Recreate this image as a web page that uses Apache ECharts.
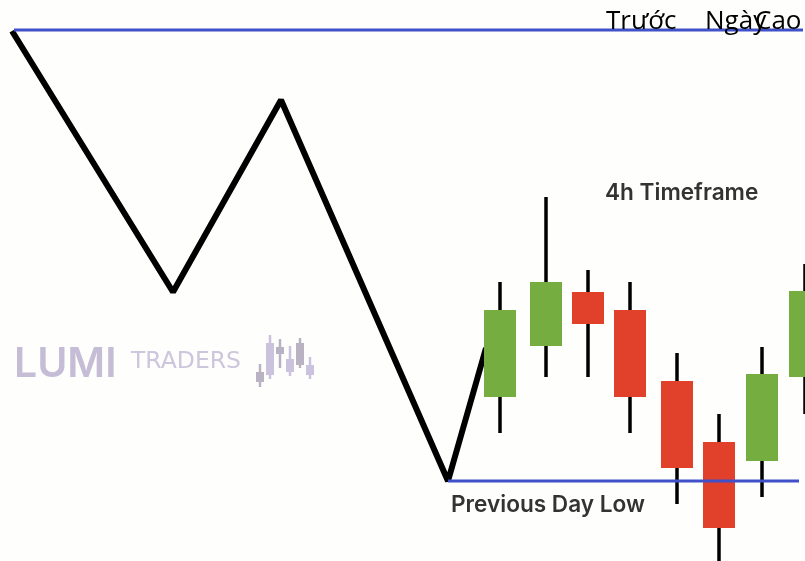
<!DOCTYPE html>
<html><head><meta charset="utf-8">
<style>html,body{margin:0;padding:0;background:#fff}#c{width:805px;height:561px}</style>
<script src="https://cdn.jsdelivr.net/npm/echarts@6/dist/echarts.min.js"></script>
</head><body><div id="c"></div>
<script>
// Candles of the 4h timeframe (price scale)
const candleX     = [500, 546, 588, 630, 677, 719, 762, 805];
const candleOpen  = [164, 215, 269, 251, 180, 119, 100, 184];
const candleClose = [251, 279, 237, 164,  93,  33, 187, 270];
const candleLow   = [128, 184, 184, 128,  57, -12,  64, 147];
const candleHigh  = [279, 364, 291, 279, 208, 147, 214, 297];
// Zigzag price path
const pathX = [12, 173, 281, 448, 486];
const pathY = [530, 269, 461, 80, 213];
// Horizontal levels
const dayHighX = [14, 803];
const dayHighY = [531, 531];
const dayLowX  = [448, 799];
const dayLowY  = [80, 80];
// Logo mini candles
const logoX     = [260, 270, 280, 290, 300, 310];
const logoTop   = [189, 218, 214, 202, 218, 196];
const logoBot   = [179, 186, 207, 189, 196, 186];
const logoHigh  = [197, 226, 222, 215, 223, 204];
const logoLow   = [174, 182, 193, 185, 193, 182];
const logoKind  = [0, 1, 0, 1, 0, 1];
// Text
const titleWords = ['Trước', 'Ngày', 'Cao'];
const logoWords = ['LUMI', 'TRADERS'];
const noteWords = ['4h Timeframe', 'Previous Day Low'];

const GREEN = '#76ad41', RED = '#e1412b', BLUE = '#3f50c8';
const rows = candleX.map((x, i) => [x, candleOpen[i], candleClose[i], candleLow[i], candleHigh[i]]);
const logoRows = logoX.map((x, i) => [x, logoBot[i], logoTop[i], logoLow[i], logoHigh[i], logoKind[i]]);
const pairs = (a, b) => a.map((x, i) => [x, b[i]]);

function candle(params, api, width, wickW, wickColor, fillFor) {
  const x = api.value(0), o = api.value(1), c = api.value(2), l = api.value(3), h = api.value(4);
  const top = api.coord([x, Math.max(o, c)]), bot = api.coord([x, Math.min(o, c)]);
  const lo = api.coord([x, l]), hi = api.coord([x, h]);
  return { type: 'group', children: [
    { type: 'line', shape: { x1: hi[0], y1: hi[1], x2: lo[0], y2: lo[1] },
      style: { stroke: wickColor || fillFor(api), lineWidth: wickW } },
    { type: 'rect', shape: { x: top[0] - width / 2, y: top[1], width: width, height: bot[1] - top[1] },
      style: { fill: fillFor(api) } }
  ]};
}

const chart = echarts.init(document.getElementById('c'), null, { renderer: 'canvas' });
chart.setOption({
  animation: false,
  backgroundColor: '#fefefd',
  grid: { left: 0, right: 0, top: 0, bottom: 0 },
  xAxis: { type: 'value', min: 0, max: 805, show: false },
  yAxis: { type: 'value', min: 0, max: 561, show: false },
  series: [
    { type: 'line', name: 'path', data: pairs(pathX, pathY), showSymbol: false, z: 2, silent: true,
      lineStyle: { color: '#000', width: 6, join: 'bevel', cap: 'butt' } },
    { type: 'custom', name: 'candles', data: rows, z: 3, clip: false, silent: true,
      renderItem: (p, api) => candle(p, api, 32, 3.5, '#000',
        a => a.value(2) > a.value(1) ? GREEN : RED),
      encode: { x: 0, y: [1, 2, 3, 4] } },
    { type: 'line', name: 'dayHigh', data: pairs(dayHighX, dayHighY), showSymbol: false, z: 4, silent: true,
      lineStyle: { color: BLUE, width: 3 } },
    { type: 'line', name: 'dayLow', data: pairs(dayLowX, dayLowY), showSymbol: false, z: 4, silent: true,
      lineStyle: { color: BLUE, width: 3 } },
    { type: 'custom', name: 'logo', data: logoRows, z: 1, silent: true,
      renderItem: (p, api) => candle(p, api, 8, 2.5, null,
        a => a.value(5) ? '#cbc2de' : '#b8b2c2'),
      encode: { x: 0, y: [1, 2, 3, 4] } }
  ],
  graphic: [
    { type: 'text', left: 606, top: 9, z: 10, style: { text: titleWords[0], font: '26px "Open Sans"', fill: '#000' } },
    { type: 'text', left: 705, top: 9, z: 10, style: { text: titleWords[1], font: '26px "Open Sans"', fill: '#000' } },
    { type: 'text', left: 755, top: 9, z: 10, style: { text: titleWords[2], font: '26px "Open Sans"', fill: '#000' } },
    { type: 'text', left: 14, top: 344, z: 1, style: { text: logoWords[0], font: '600 41px "Inter"', fill: '#c5bdd6' } },
    { type: 'text', left: 131, top: 350, z: 1, style: { text: logoWords[1], font: '23.5px "DejaVu Sans"', fill: '#cdc6dc' } },
    { type: 'text', left: 605, top: 182, z: 10, style: { text: noteWords[0], font: '600 22.6px "Inter"', fill: '#333' } },
    { type: 'text', left: 451, top: 494, z: 10, style: { text: noteWords[1], font: '600 22.6px "Inter"', fill: '#333' } }
  ]
});
</script></body></html>
